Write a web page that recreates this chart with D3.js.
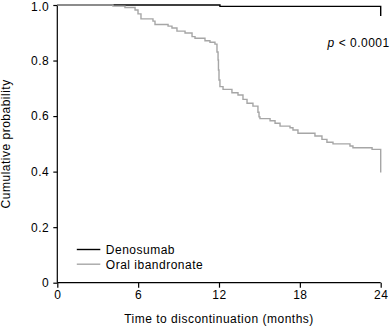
<!DOCTYPE html>
<html>
<head>
<meta charset="utf-8">
<script src="https://cdn.jsdelivr.net/npm/d3@7"></script>
<style>
  body { margin: 0; background: #fff; }
  svg text { font-family: "Liberation Sans", Arial, sans-serif; font-size: 12px; letter-spacing: 0.5px; fill: #000; }
</style>
</head>
<body>
<svg id="km" width="390" height="328"></svg>
<script>
// tick values
const monthTicks = [0, 6, 12, 18, 24];
const probTicks = [0, 0.2, 0.4, 0.6, 0.8, 1.0];

// Denosumab curve (step after)
const denoTime = [0, 12.07, 24];
const denoProb = [1.0, 0.995, 0.96];

// Oral ibandronate curve (step after)
const ibanTime = [0, 4.13, 5.02, 5.77, 5.99, 6.21, 7.10, 7.25, 8.22, 8.51, 8.88, 9.48, 10.00, 10.22,
  10.96, 11.33, 11.70, 11.85, 11.93, 11.96, 12.00, 12.07, 12.30, 12.96, 13.41, 13.78, 14.08, 14.52,
  14.89, 14.97, 15.04, 15.79, 16.16, 16.53, 17.27, 17.49, 17.86, 19.12, 19.64, 20.01, 20.46, 21.72,
  21.94, 23.36, 24];
const ibanProb = [1.0, 0.996, 0.991, 0.982, 0.968, 0.950, 0.942, 0.930, 0.924, 0.917, 0.906, 0.899, 0.886, 0.880,
  0.871, 0.866, 0.859, 0.831, 0.802, 0.766, 0.730, 0.706, 0.696, 0.684, 0.676, 0.660, 0.646, 0.636,
  0.614, 0.597, 0.591, 0.583, 0.574, 0.564, 0.558, 0.550, 0.538, 0.528, 0.516, 0.506, 0.500, 0.492,
  0.486, 0.480, 0.397];

const seriesNames = ["Denosumab", "Oral ibandronate"];
const seriesColors = ["#000000", "#a6a6a6"];

function Draw_km(){
    const margin = { top: 5, right: 9.3, bottom: 45.3, left: 57.3 },
          width = 390 - margin.left - margin.right,
          height = 328 - margin.top - margin.bottom;

    const svg = d3.select("#km").append("g")
        .attr("transform", `translate(${margin.left},${margin.top})`);

    const x = d3.scaleLinear().domain([0, 24]).range([0, width]);
    const y = d3.scaleLinear().domain([0, 1]).range([height, 0]);

    const xAxis = d3.axisBottom(x).tickValues(monthTicks).tickSize(5).tickPadding(3);
    const yAxis = d3.axisLeft(y).tickValues(probTicks).tickSize(4).tickPadding(4)
        .tickFormat(d => d === 0 ? "0" : d.toFixed(1));

    const gx = svg.append("g")
        .attr("transform", `translate(0,${height})`)
        .call(xAxis);
    const gy = svg.append("g").call(yAxis);

    [gx, gy].forEach(g => {
        g.select(".domain").attr("stroke", "#000").attr("stroke-width", 1.2);
        g.selectAll(".tick line").attr("stroke", "#000").attr("stroke-width", 1.2);
        g.selectAll("text").attr("font-size", null).attr("font-family", null);
    });
    gx.select(".domain").attr("d", `M0,0H${width}`);
    gy.select(".domain").attr("d", `M0,${height}V0`);
    // top label sits at the very edge, nudge it so it stays inside
    gy.selectAll(".tick text").filter(d => d === 1).attr("dy", "0.45em");

    const line = d3.line()
        .curve(d3.curveStepAfter)
        .x(d => x(d[0]))
        .y(d => y(d[1]));

    const denoData = denoTime.map((t, i) => [t, denoProb[i]]);
    const ibanData = ibanTime.map((t, i) => [t, ibanProb[i]]);

    svg.append("path")
        .datum(denoData)
        .attr("d", line)
        .attr("fill", "none")
        .attr("stroke", seriesColors[0])
        .attr("stroke-width", 1.4);

    svg.append("path")
        .datum(ibanData)
        .attr("d", line)
        .attr("fill", "none")
        .attr("stroke", seriesColors[1])
        .attr("stroke-width", 1.4);

    // p value
    const pt = svg.append("text")
        .attr("x", width + 9)
        .attr("y", 41.5)
        .attr("text-anchor", "end");
    pt.append("tspan").attr("font-style", "italic").text("p");
    pt.append("tspan").text(" < 0.0001");

    // legend
    const legend = svg.append("g").attr("transform", "translate(19.5,244.5)");
    seriesNames.forEach((name, i) => {
        legend.append("line")
            .attr("x1", 0).attr("x2", 23.5)
            .attr("y1", i * 14.7).attr("y2", i * 14.7)
            .attr("stroke", seriesColors[i])
            .attr("stroke-width", 1.4);
        legend.append("text")
            .attr("x", 29)
            .attr("y", i * 14.7 + 4.3)
            .text(name);
    });

    // axis labels
    svg.append("text")
        .attr("x", width / 2)
        .attr("y", height + 40)
        .attr("text-anchor", "middle")
        .text("Time to discontinuation (months)");

    svg.append("text")
        .attr("transform", "rotate(-90)")
        .attr("x", -height / 2)
        .attr("y", -47)
        .attr("text-anchor", "middle")
        .text("Cumulative probability");
}

Draw_km();
</script>
</body>
</html>
